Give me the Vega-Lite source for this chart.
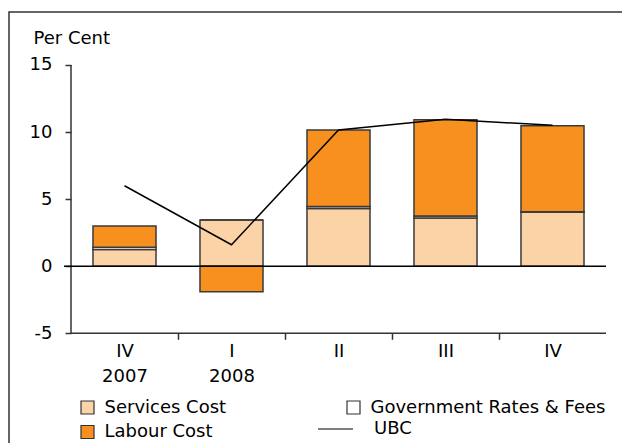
{
  "$schema": "https://vega.github.io/schema/vega-lite/v6.json",
  "width": 614,
  "height": 432,
  "autosize": "none",
  "padding": {"left": 9, "top": 12, "right": -1, "bottom": -1},
  "background": "white",
  "config": {
    "font": "DejaVu Sans",
    "view": {"stroke": "#333", "strokeWidth": 1.5}
  },
  "resolve": {"scale": {"x": "independent"}},
  "layer": [
    {
      "data": {"values": [{}]},
      "layer": [
        {
          "mark": {"type": "rule", "stroke": "#333", "strokeWidth": 1.5},
          "encoding": {
            "x": {"datum": 0, "type": "quantitative", "scale": {"domain": [-0.57944, 5.15888], "nice": false, "zero": false}, "axis": null},
            "y": {"datum": -5, "type": "quantitative"},
            "y2": {"datum": 15}
          }
        },
        {
          "mark": {"type": "rule", "stroke": "#333", "strokeWidth": 1.5},
          "encoding": {
            "x": {"datum": 0, "type": "quantitative", "scale": {"domain": [-0.57944, 5.15888], "nice": false, "zero": false}, "axis": null},
            "x2": {"datum": 5},
            "y": {"datum": -5, "type": "quantitative"}
          }
        }
      ]
    },
    {
      "layer": [
        {
          "data": {"values": [
            {"period": "2007 IV", "series": "Services Cost", "value": 1.25},
            {"period": "2007 IV", "series": "Government Rates & Fees", "value": 0.17},
            {"period": "2007 IV", "series": "Labour Cost", "value": 1.58},
            {"period": "2008 I", "series": "Services Cost", "value": 3.45},
            {"period": "2008 I", "series": "Government Rates & Fees", "value": 0.0},
            {"period": "2008 I", "series": "Labour Cost", "value": -1.9},
            {"period": "2008 II", "series": "Services Cost", "value": 4.3},
            {"period": "2008 II", "series": "Government Rates & Fees", "value": 0.15},
            {"period": "2008 II", "series": "Labour Cost", "value": 5.7},
            {"period": "2008 III", "series": "Services Cost", "value": 3.6},
            {"period": "2008 III", "series": "Government Rates & Fees", "value": 0.15},
            {"period": "2008 III", "series": "Labour Cost", "value": 7.17},
            {"period": "2008 IV", "series": "Services Cost", "value": 4.05},
            {"period": "2008 IV", "series": "Government Rates & Fees", "value": 0.02},
            {"period": "2008 IV", "series": "Labour Cost", "value": 6.4}
          ]},
          "transform": [
            {"calculate": "indexof(['Services Cost','Government Rates & Fees','Labour Cost'], datum.series)", "as": "ord"}
          ],
          "mark": {"type": "bar", "stroke": "#3a3a3a", "strokeWidth": 1.5, "width": {"band": 0.589}},
          "encoding": {
            "x": {
              "field": "period", "type": "nominal", "sort": null,
              "scale": {"domain": ["2007 IV", "2008 I", "2008 II", "2008 III", "2008 IV"], "paddingInner": 0, "paddingOuter": 0.36916, "align": 0.78481},
              "axis": {
                "orient": "bottom", "offset": -110.7, "domain": false, "title": null,
                "tickBand": "extent", "tickSize": 6, "tickColor": "#333", "tickWidth": 1.5,
                "tickOpacity": {"condition": {"test": "datum.value == '2008 IV' || datum.extra", "value": 0}, "value": 1},
                "labelAngle": 0, "labelFont": "DejaVu Sans", "labelFontSize": 18, "labelColor": "#000",
                "labelPadding": 3, "labelLineHeight": 25, "labelBaseline": "top",
                "labelExpr": "datum.value == '2007 IV' ? ['IV', '2007'] : datum.value == '2008 I' ? ['I', '2008'] : split(datum.value, ' ')[1]"
              }
            },
            "y": {
              "field": "value", "type": "quantitative", "stack": "zero", "title": "Per Cent",
              "scale": {"domain": [-13.252, 18.9508], "nice": false, "zero": false},
              "axis": {
                "orient": "left", "offset": -62, "domain": false, "grid": false,
                "values": [-5, 0, 5, 10, 15],
                "tickSize": 6, "tickColor": "#333", "tickWidth": 1.5,
                "labelFont": "DejaVu Sans", "labelFontSize": 18, "labelColor": "#000", "labelPadding": 13,
                "labelExpr": "'' + datum.value",
                "title": "Per Cent", "titleAngle": 0, "titleAlign": "left", "titleBaseline": "alphabetic",
                "titleX": -38, "titleY": 31.5, "titleFont": "DejaVu Sans", "titleFontSize": 18,
                "titleFontWeight": "normal", "titleColor": "#000"
              }
            },
            "fill": {
              "field": "series", "type": "nominal",
              "scale": {"domain": ["Services Cost", "Government Rates & Fees", "Labour Cost"], "range": ["#FCD3A6", "#FFFFFF", "#F7901E"]},
              "legend": {
                "orient": "none", "legendX": 69.5, "legendY": 386.5, "direction": "horizontal", "columns": 2,
                "title": null, "symbolType": "square", "symbolSize": 169, "symbolStrokeColor": "#333", "symbolStrokeWidth": 1.2,
                "labelFont": "DejaVu Sans", "labelFontSize": 18, "labelColor": "#000", "labelOffset": 8, "labelLimit": 400,
                "columnPadding": 118, "rowPadding": 6.5, "padding": 0
              }
            },
            "order": {"field": "ord", "type": "quantitative"}
          }
        },
        {
          "data": {"values": [
            {"period": "2007 IV", "ubc": 6.0},
            {"period": "2008 I", "ubc": 1.6},
            {"period": "2008 II", "ubc": 10.15},
            {"period": "2008 III", "ubc": 10.95},
            {"period": "2008 IV", "ubc": 10.5}
          ]},
          "mark": {"type": "line", "strokeWidth": 1.5},
          "encoding": {
            "x": {"field": "period", "type": "nominal", "sort": null},
            "y": {"field": "ubc", "type": "quantitative", "title": "Per Cent"},
            "stroke": {
              "datum": "UBC", "type": "nominal",
              "scale": {"domain": ["UBC"], "range": ["#000000"]},
              "legend": {
                "orient": "none", "legendX": 308, "legendY": 398.5, "title": null,
                "symbolType": "stroke", "symbolSize": 1225, "symbolStrokeWidth": 1.2,
                "labelFont": "DejaVu Sans", "labelFontSize": 18, "labelColor": "#000", "labelOffset": 20, "labelLimit": 400, "padding": 0
              }
            }
          }
        }
      ]
    },
    {
      "data": {"values": [{}]},
      "mark": {"type": "rule", "stroke": "#000", "strokeWidth": 1.5},
      "encoding": {
        "x": {"datum": -0.0654, "type": "quantitative", "scale": {"domain": [-0.57944, 5.15888], "nice": false, "zero": false}, "axis": null},
        "x2": {"datum": 5},
        "y": {"datum": 0, "type": "quantitative"}
      }
    }
  ]
}
